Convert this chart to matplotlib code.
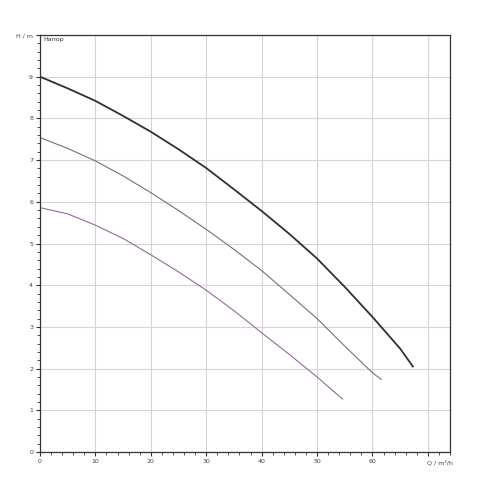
import matplotlib.pyplot as plt
from matplotlib.ticker import MultipleLocator

# pump curves: Q in m3/h, H in m
q_top = [0, 5, 10, 15, 20, 25, 30, 35, 40, 45, 50, 55, 60, 65, 67.3]
h_top = [9.0, 8.72, 8.42, 8.06, 7.68, 7.26, 6.81, 6.30, 5.78, 5.23, 4.64,
         3.96, 3.24, 2.48, 2.05]

q_mid = [0, 5, 10, 15, 20, 25, 30, 35, 40, 45, 50, 55, 60, 61.6]
h_mid = [7.54, 7.28, 6.98, 6.62, 6.22, 5.79, 5.34, 4.86, 4.35, 3.78, 3.20,
         2.54, 1.90, 1.74]

q_low = [0, 5, 10, 15, 20, 25, 30, 35, 40, 45, 50, 54.6]
h_low = [5.86, 5.71, 5.44, 5.12, 4.73, 4.32, 3.88, 3.39, 2.86, 2.34, 1.80,
         1.27]

x_ticks = [0, 10, 20, 30, 40, 50, 60, 70]
x_labels = ['0', '10', '20', '30', '40', '50', '60', '']
y_ticks = list(range(11))
y_labels = [str(v) for v in range(10)] + ['H / m']

fig = plt.figure(figsize=(5, 5), dpi=100)
ax = fig.add_axes([0.08, 0.096, 0.82, 0.834])

# curves
ax.plot(q_top, h_top, color='#303030', lw=1.3, solid_joinstyle='round')
ax.plot(q_mid, h_mid, color='#7a6b80', lw=0.8, solid_joinstyle='round')
ax.plot(q_low, h_low, color='#94699a', lw=0.8, solid_joinstyle='round')

ax.set_xlim(0, 74)
ax.set_ylim(0, 10)

ax.set_xticks(x_ticks)
ax.set_xticklabels(x_labels)
ax.set_yticks(y_ticks)
ax.set_yticklabels(y_labels)
ax.xaxis.set_minor_locator(MultipleLocator(2))
ax.yaxis.set_minor_locator(MultipleLocator(0.2))

ax.tick_params(which='both', direction='out', colors='#333333',
               labelsize=4.5, labelcolor='#444444', pad=2)
ax.tick_params(which='major', length=3, width=0.8)
ax.tick_params(which='minor', length=2, width=0.6)

ax.grid(True, which='major', color='#d4d4d4', lw=0.8)
ax.set_axisbelow(True)

for s in ax.spines.values():
    s.set_color('#333333')
    s.set_linewidth(0.9)

# axis captions
ax.text(72.2, -0.2, 'Q / m\u00b3/h', fontsize=4.5, color='#444444',
        ha='center', va='top')
ax.text(0.6, 9.95, 'Напор', fontsize=4.5, color='#333333',
        ha='left', va='top')

plt.savefig('out.png', dpi=100)
